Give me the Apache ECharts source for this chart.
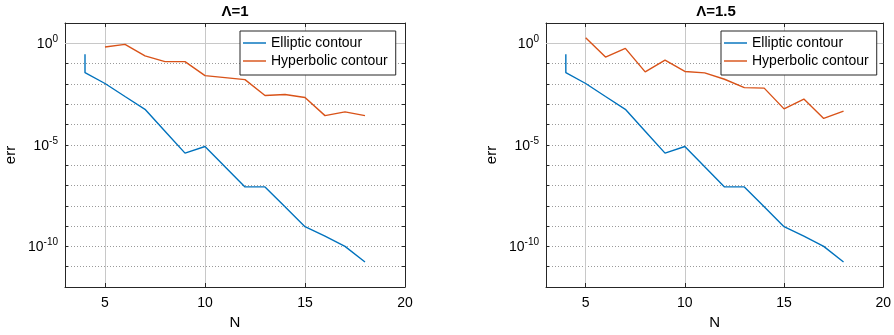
<!DOCTYPE html>
<html><head><meta charset="utf-8">
<script src="https://cdn.jsdelivr.net/npm/echarts@6/dist/echarts.min.js"></script>
<style>html,body{margin:0;padding:0;background:#fff}#c{width:894px;height:335px}</style>
</head><body><div id="c"></div><script>
// ---- data ----
const nEll = [4, 4, 5, 6, 7, 8, 9, 10, 11, 12, 13, 14, 15, 16, 17, 18];
const errEllL1 = [0.29, 0.036, 0.0105, 0.0024, 5.6e-4, 4.7e-5, 3.9e-6, 8.3e-6, 8.3e-7, 8.5e-8, 8.5e-8, 8.9e-9, 9.3e-10, 3.2e-10, 1.0e-10, 1.7e-11];
const errEllL15 = [0.29, 0.036, 0.0105, 0.0024, 5.6e-4, 4.7e-5, 3.9e-6, 8.3e-6, 8.3e-7, 8.5e-8, 8.5e-8, 8.9e-9, 9.3e-10, 3.2e-10, 1.0e-10, 1.7e-11];
const nHyp = [5, 6, 7, 8, 9, 10, 11, 12, 13, 14, 15, 16, 17, 18];
const errHypL1 = [0.66, 0.89, 0.24, 0.126, 0.126, 0.0257, 0.0204, 0.0162, 0.0027, 0.003, 0.00214, 2.75e-4, 4.2e-4, 2.75e-4];
const errHypL15 = [1.9, 0.21, 0.56, 0.039, 0.15, 0.041, 0.035, 0.017, 0.0066, 0.0062, 5.9e-4, 0.0018, 2.0e-4, 4.6e-4];
const titles = ['\u039B=1', '\u039B=1.5'];
const seriesNames = ['Elliptic contour', 'Hyperbolic contour'];
const xMin = 3, xMax = 20;
const yMin = 1e-12, yMax = 1e1;
const yMajor = [1, 1e-5, 1e-10];
const xMajor = [5, 10, 15, 20];

const FONT = 'Liberation Sans, Arial, Helvetica, sans-serif';
const AX = '#262626';
const BLUE = '#0072BD', ORANGE = '#D95319';
const gridLefts = [65, 546];

function pairs(xs, ys) { return xs.map((x, i) => [x, ys[i]]); }

const panels = [
  { ell: errEllL1, hyp: errHypL1 },
  { ell: errEllL15, hyp: errHypL15 }
];

const grid = [], xAxis = [], yAxis = [], series = [], legend = [], graphic = [];

function yLabel(v) {
  const e = Math.round(Math.log10(v));
  if (yMajor.some(m => Math.abs(Math.log10(m) - e) < 1e-6)) return '{b|10}{s|' + e + '}';
  return '';
}

const LINE_ICON = 'path://M0,0 L24,0 L24,1.5 L0,1.5 Z';

panels.forEach((p, i) => {
  const L = gridLefts[i];
  grid.push({ left: L, top: 23, width: 340, height: 265, containLabel: false });
  const xBase = {
    type: 'value', gridIndex: i, min: xMin, max: xMax, splitNumber: 3,
    axisLine: { show: true, lineStyle: { color: AX, width: 1 } },
    axisTick: { show: true, inside: true, length: 4, lineStyle: { color: AX } }
  };
  xAxis.push(Object.assign({}, xBase, {
    position: 'bottom',
    name: 'N', nameLocation: 'middle', nameGap: 28,
    nameTextStyle: { fontFamily: FONT, fontSize: 15, color: '#000' },
    axisLabel: { show: true, margin: 9, fontFamily: FONT, fontSize: 14, color: '#000',
      formatter: v => (xMajor.indexOf(v) >= 0 ? String(v) : '') },
    splitLine: { show: true, lineStyle: { color: '#c8c8c8', width: 1 } }
  }));
  xAxis.push(Object.assign({}, xBase, {
    position: 'top', axisLabel: { show: false }, splitLine: { show: false }
  }));
  const yBase = {
    type: 'log', logBase: 10, gridIndex: i, min: yMin, max: yMax, interval: 1,
    axisLine: { show: true, lineStyle: { color: AX, width: 1 } },
    axisTick: { show: true, inside: true, length: 3, lineStyle: { color: AX } }
  };
  yAxis.push(Object.assign({}, yBase, {
    position: 'left',
    name: 'err', nameLocation: 'middle', nameGap: 47, nameRotate: 90,
    nameTextStyle: { fontFamily: FONT, fontSize: 15, color: '#000' },
    axisLabel: { show: true, margin: 7, formatter: yLabel,
      rich: {
        b: { fontFamily: FONT, fontSize: 14, color: '#000', verticalAlign: 'bottom', lineHeight: 16 },
        s: { fontFamily: FONT, fontSize: 10, color: '#000', verticalAlign: 'bottom', lineHeight: 16, padding: [0, 0, 7, 0] }
      } },
    splitLine: { show: true, lineStyle: { color: '#9a9a9a', width: 1, type: [1, 2] } }
  }));
  yAxis.push(Object.assign({}, yBase, {
    position: 'right', axisLabel: { show: false }, splitLine: { show: false }
  }));
  series.push({
    name: seriesNames[0], type: 'line', xAxisIndex: 2 * i, yAxisIndex: 2 * i,
    data: pairs(nEll, p.ell), symbol: 'none', showSymbol: false, z: 4,
    lineStyle: { color: BLUE, width: 1.4 }, itemStyle: { color: BLUE },
    markLine: {
      silent: true, symbol: 'none', z: 1, label: { show: false }, animation: false,
      lineStyle: { color: '#c8c8c8', width: 1, type: 'solid' },
      data: yMajor.map(v => ({ yAxis: v }))
    }
  });
  series.push({
    name: seriesNames[1], type: 'line', xAxisIndex: 2 * i, yAxisIndex: 2 * i,
    data: pairs(nHyp, p.hyp), symbol: 'none', showSymbol: false, z: 4,
    lineStyle: { color: ORANGE, width: 1.4 }, itemStyle: { color: ORANGE }
  });
  legend.push({
    data: seriesNames.map(n => ({ name: n, icon: LINE_ICON })),
    orient: 'vertical', left: L + 175, top: 31,
    padding: [4, 8, 6, 3], itemWidth: 23, itemHeight: 1.5, itemGap: 2,
    borderColor: AX, borderWidth: 1, backgroundColor: '#fff',
    textStyle: { fontFamily: FONT, fontSize: 14, color: '#000', lineHeight: 16 },
    selectedMode: false
  });
  graphic.push({
    type: 'text', x: L + 170, y: 12,
    style: { text: titles[i], textAlign: 'center', textVerticalAlign: 'middle',
      font: 'bold 15px ' + FONT, fill: '#000' }
  });
});

const chart = echarts.init(document.getElementById('c'), null, { renderer: 'canvas' });
chart.setOption({ animation: false, backgroundColor: '#fff', grid, xAxis, yAxis, series, legend, graphic });
</script></body></html>
